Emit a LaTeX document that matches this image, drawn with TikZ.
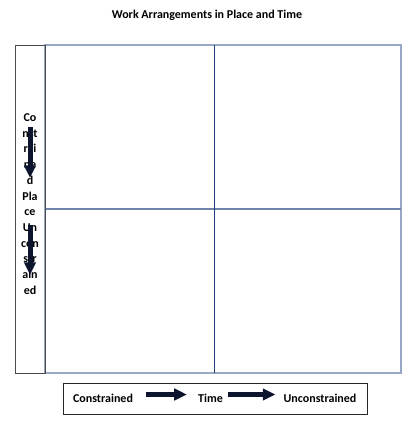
\documentclass[tikz,border=0pt]{standalone}
\usepackage{fontspec}
\setmainfont{Carlito}
\usetikzlibrary{arrows.meta}
\definecolor{gridgrey}{RGB}{152,168,196}
\definecolor{midgrey}{RGB}{112,131,168}
\definecolor{midnavy}{RGB}{31,63,127}
\definecolor{arrownavy}{RGB}{12,20,46}
\begin{document}
\begin{tikzpicture}[x=0.75pt,y=0.75pt,yscale=-1,xscale=1,
  label/.style={font=\fontsize{9}{11}\selectfont\bfseries},
  blockarrow/.style={draw=arrownavy,line width=3.75pt,-{Triangle[length=9.5pt,width=8.5pt]}}]
\useasboundingbox (0,0) rectangle (413,425);

% Text Node
\node[label] (title) at (207,15) {Work Arrangements in Place and Time};

%Shape: Rectangle [grid]
\draw[gridgrey,line width=0.9pt] (45,45) rectangle (401,373);
%Straight Lines [middle horizontal]
\draw[midgrey,line width=0.9pt] (45,209) -- (401,209);
%Straight Lines [middle vertical]
\draw[midnavy,line width=0.75pt] (214,45) -- (214,373);
%Shape: Rectangle [place column]
\draw[black!70,line width=0.7pt] (15,45) rectangle (45,373);

% Text Node
\node[label,font=\fontsize{9}{11.8}\selectfont\bfseries,align=center,inner sep=0pt] (place) at (30,204)
  {Co\\nst\\rai\\ne\\d\\Pla\\ce\\Un\\con\\str\\ain\\ed};

%Arrows [place]
\coordinate (pa1) at (30,127);
\coordinate (pb1) at (30,178);
\coordinate (pa2) at (30,225);
\coordinate (pb2) at (30,275);
\draw[blockarrow] (pa1) -- (pb1);
\draw[blockarrow] (pa2) -- (pb2);

%Shape: Rectangle [time box]
\draw[black!85,line width=0.7pt] (63,383) rectangle (367,414);

% Text Node
\node[label] (cons) at (103,398) {Constrained};
% Text Node
\node[label] (time) at (210.5,398) {Time};
% Text Node
\node[label] (uncons) at (320,398) {Unconstrained};

%Arrows [time]
\draw[blockarrow,shorten <=6.4pt,shorten >=4.9pt] ([yshift=-2.6pt]cons.east) -- ([yshift=-2.6pt]time.west);
\draw[blockarrow,shorten <=0.4pt,shorten >=2.6pt] ([yshift=-2.6pt]time.east) -- ([yshift=-2.6pt]uncons.west);

\end{tikzpicture}
\end{document}
